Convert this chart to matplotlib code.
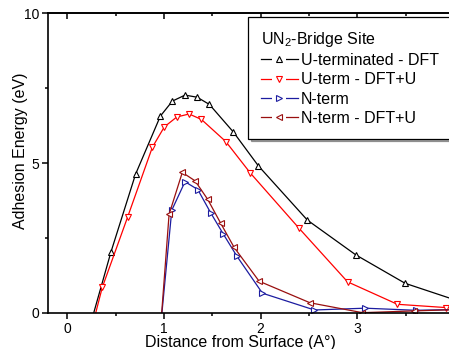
import matplotlib
matplotlib.use("Agg")
import matplotlib.pyplot as plt
from matplotlib.ticker import MultipleLocator
from matplotlib.lines import Line2D
from matplotlib.legend_handler import HandlerTuple

plt.rcParams['font.family'] = ['Liberation Sans', 'DejaVu Sans']
plt.rcParams['mathtext.fontset'] = 'custom'
plt.rcParams['mathtext.rm'] = 'Liberation Sans'
plt.rcParams['mathtext.it'] = 'Liberation Sans:italic'

# Data
x_u_dft = [0.20, 0.452, 0.706, 0.963, 1.087, 1.218, 1.343, 1.47, 1.718, 1.977, 2.484, 2.985, 3.496, 4.00]
y_u_dft = [-0.83, 2.04, 4.63, 6.57, 7.07, 7.27, 7.20, 6.96, 6.04, 4.91, 3.10, 1.94, 0.99, 0.45]

x_u_dftu = [0.11, 0.362, 0.625, 0.88, 1.004, 1.133, 1.26, 1.387, 1.64, 1.894, 2.40, 2.90, 3.416, 3.92]
y_u_dftu = [-2.3, 0.857, 3.21, 5.53, 6.21, 6.54, 6.64, 6.46, 5.72, 4.67, 2.82, 1.04, 0.29, 0.18]

x_n = [0.83, 1.081, 1.218, 1.35, 1.484, 1.615, 1.754, 2.019, 2.557, 3.082, 3.607, 4.10]
y_n = [-5.0, 3.43, 4.38, 4.12, 3.34, 2.63, 1.90, 0.66, 0.10, 0.16, 0.09, 0.12]

x_n_dftu = [0.80, 1.053, 1.19, 1.322, 1.453, 1.588, 1.726, 1.985, 2.512, 3.054, 3.592, 4.10]
y_n_dftu = [-7.6, 3.29, 4.69, 4.41, 3.79, 2.99, 2.19, 1.06, 0.34, 0.01, 0.07, 0.12]

labels = ["U-terminated - DFT", "U-term - DFT+U", "N-term", "N-term - DFT+U"]
legend_title = "UN$_2$-Bridge Site"
x_label = "Distance from Surface (A\u00b0)"
y_label = "Adhesion Energy (eV)"

fig = plt.figure(figsize=(4.49, 3.49), dpi=100)
ax = fig.add_axes([0.1069, 0.1032, 0.8931, 0.8587])

series = [
    (x_u_dft, y_u_dft, 'black', '^'),
    (x_u_dftu, y_u_dftu, '#FF0000', 'v'),
    (x_n, y_n, '#1C1CA0', '>'),
    (x_n_dftu, y_n_dftu, '#990F0F', '<'),
]
handles = []
for (xs, ys, c, m), lab in zip(series, labels):
    ax.plot(xs, ys, color=c, lw=0.9, marker=m, markersize=4.5,
            markerfacecolor='white', markeredgecolor=c, markeredgewidth=0.8)
    h_line = Line2D([], [], color=c, lw=0.9)
    h_bg = Line2D([], [], ls='none', marker='s', markersize=9.5,
                  markerfacecolor='white', markeredgecolor='white', markeredgewidth=0)
    h_mk = Line2D([], [], ls='none', marker=m, markersize=3.8,
                  markerfacecolor='white', markeredgecolor=c, markeredgewidth=0.8)
    handles.append((h_line, h_bg, h_mk))

ax.set_xlim(-0.2, 3.95)
ax.set_ylim(0, 10)
ax.xaxis.set_major_locator(MultipleLocator(1))
ax.xaxis.set_minor_locator(MultipleLocator(0.5))
ax.yaxis.set_major_locator(MultipleLocator(5))
ax.yaxis.set_minor_locator(MultipleLocator(2.5))
ax.tick_params(axis='both', which='major', direction='out', length=4.3, width=1.1, labelsize=10, pad=2)
ax.tick_params(axis='both', which='minor', direction='out', length=2.5, width=1.1)
ax.spines['right'].set_visible(False)
for s in ['left', 'bottom', 'top']:
    ax.spines[s].set_linewidth(1.2)

sec = ax.secondary_xaxis('top')
sec.xaxis.set_major_locator(MultipleLocator(1))
sec.xaxis.set_minor_locator(MultipleLocator(0.5))
sec.tick_params(axis='x', which='major', direction='in', length=4.3, width=1.1, labeltop=False)
sec.tick_params(axis='x', which='minor', direction='in', length=2.5, width=1.1)
sec.spines['top'].set_linewidth(1.2)

ax.set_xlabel(x_label, fontsize=11.5)
ax.set_ylabel(y_label, fontsize=11.5)
ax.xaxis.set_label_coords(0.481, -0.072)
ax.yaxis.set_label_coords(-0.051, 0.543)

leg = ax.legend(handles, labels, loc='upper left',
                bbox_to_anchor=(0.4995, 0.593, 0.53, 0.395), mode='expand', borderaxespad=0,
                title=legend_title, title_fontsize=11.5, fontsize=11.5, alignment='left',
                frameon=True, fancybox=False, shadow=True, numpoints=1,
                handler_map={tuple: HandlerTuple(ndivide=1)},
                handlelength=2.3, handletextpad=0.2, borderpad=0.8, labelspacing=0.27)
leg.get_frame().set_edgecolor('black')
leg.get_frame().set_linewidth(0.9)

fig.savefig("out.png", dpi=100)
